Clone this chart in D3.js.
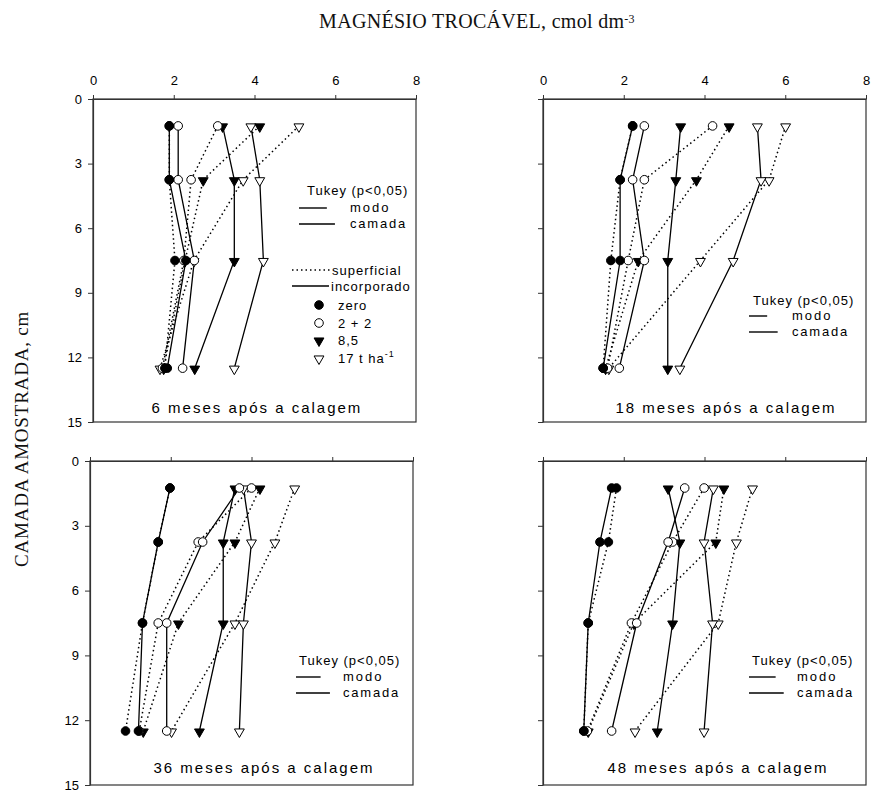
<!DOCTYPE html>
<html><head><meta charset="utf-8">
<script src="https://cdn.jsdelivr.net/npm/d3@7/dist/d3.min.js"></script>
<style>body{margin:0;background:#fff}svg{display:block}</style>
</head><body><svg id="c" width="871" height="794"></svg>
<script>
// ---- data ----
const depths = [1.25, 3.75, 7.5, 12.5];
const xTicks = [0, 2, 4, 6, 8];
const yTicks = [0, 3, 6, 9, 12, 15];
const doses = ["zero", "2 + 2", "8,5", "17"];
const panelTitles = ["6 meses após a calagem", "18 meses após a calagem", "36 meses após a calagem", "48 meses após a calagem"];
// superficial (dotted) and incorporado (solid); rows = doses, cols = depths
const sup6  = [[1.89,1.89,2.03,1.78],[3.09,2.43,2.25,1.72],[4.13,2.73,2.28,1.75],[5.10,3.72,2.50,1.66]];
const inc6  = [[1.89,1.89,2.30,1.84],[2.11,2.11,2.51,2.22],[3.21,3.50,3.50,2.52],[3.91,4.13,4.22,3.50]];
const sup18 = [[2.22,1.91,1.68,1.49],[4.20,2.51,2.11,1.60],[4.61,3.80,2.36,1.55],[6.01,5.60,3.90,1.63]];
const inc18 = [[2.22,1.91,1.91,1.49],[2.51,2.22,2.51,1.89],[3.41,3.29,3.09,3.09],[5.31,5.40,4.71,3.39]];
const sup36 = [[1.98,1.69,1.30,0.88],[4.00,2.68,1.69,1.22],[4.21,3.59,2.19,1.32],[5.07,4.58,3.59,2.02]];
const inc36 = [[1.98,1.69,1.30,1.20],[3.70,2.79,1.90,1.90],[3.59,3.30,3.30,2.71],[3.80,4.00,3.80,3.70]];
const sup48 = [[1.82,1.62,1.12,1.01],[3.99,3.21,2.19,1.10],[4.48,4.28,2.25,1.12],[5.19,4.79,4.34,2.28]];
const inc48 = [[1.70,1.41,1.12,1.01],[3.51,3.10,2.32,1.70],[3.10,3.39,3.21,2.83],[4.22,3.99,4.20,3.99]];
const tukeyModo   = [0.69, 0.45, 0.61, 0.66];
const tukeyCamada = [0.89, 0.71, 0.84, 0.86];

const supAll = [sup6, sup18, sup36, sup48];
const incAll = [inc6, inc18, inc36, inc48];

// ---- layout ----
const panels = [
  {x0:93,  y0:99,  w:323, h:323, top:true,  left:true,  tk:[214,91,206,109,125,257], st:[164,309]},
  {x0:543, y0:99,  w:323, h:323, top:true,  left:false, tk:[210,201,206,217,233,249], st:[183,309]},
  {x0:90,  y0:461, w:323, h:324, top:false, left:true,  tk:[209,199,206,216,232,253], st:[174,307]},
  {x0:543, y0:461, w:323, h:324, top:false, left:false, tk:[209,199,206,216,232,254], st:[175,307]}
];
const svg = d3.select("#c");
const sans = "Arial, 'Liberation Sans', sans-serif";
const serif = "'Times New Roman', 'Liberation Serif', serif";
const axisCol = "#333";
const dotArray = "1.5,3";

function marker(g, doseIdx, cx, cy) {
  const filled = (doseIdx === 0 || doseIdx === 2);
  if (doseIdx < 2) {
    g.append("circle").attr("cx", cx).attr("cy", cy).attr("r", 4.3)
      .attr("fill", filled ? "#000" : "#fff").attr("stroke", "#000").attr("stroke-width", 1);
  } else {
    g.append("path").attr("d", d3.symbol(d3.symbolTriangle, 42)())
      .attr("transform", `translate(${cx},${cy + 0.8}) rotate(180)`)
      .attr("fill", filled ? "#000" : "#fff").attr("stroke", "#000").attr("stroke-width", 1);
  }
}

panels.forEach((p, pi) => {
  const x = d3.scaleLinear().domain([0, 8]).range([p.x0, p.x0 + p.w]);
  const y = d3.scaleLinear().domain([0, 15]).range([p.y0, p.y0 + p.h]);
  const g = svg.append("g");

  // frame
  g.append("rect").attr("x", p.x0).attr("y", p.y0).attr("width", p.w).attr("height", p.h)
    .attr("fill", "none").attr("stroke", axisCol).attr("stroke-width", 1.2);

  const ax = d3.axisTop(x).tickValues(xTicks).tickSize(4).tickSizeOuter(0);
  if (!p.top) ax.tickFormat("");
  const gx = g.append("g").attr("transform", `translate(0,${p.y0})`).call(ax);
  gx.selectAll("text").attr("font-family", sans).attr("font-size", 13).attr("fill", "#000").attr("dy", "-0.55em");

  const ay = d3.axisLeft(y).tickValues(yTicks).tickSize(5).tickSizeOuter(0);
  if (!p.left) ay.tickFormat("");
  const gy = g.append("g").attr("transform", `translate(${p.x0},0)`).call(ay);
  gy.selectAll("text").attr("font-family", sans).attr("font-size", 13).attr("fill", "#000").attr("x", -11);
  g.selectAll(".domain").attr("stroke", axisCol).attr("stroke-width", 1.2);
  g.selectAll(".tick line").attr("stroke", axisCol);

  const line = d3.line().x(v => x(v)).y((v, i) => y(depths[i]));
  const sup = supAll[pi], inc = incAll[pi];
  // lines
  sup.forEach(s => g.append("path").attr("d", line(s)).attr("fill", "none")
    .attr("stroke", "#000").attr("stroke-width", 1.5).attr("stroke-dasharray", dotArray));
  inc.forEach(s => g.append("path").attr("d", line(s)).attr("fill", "none")
    .attr("stroke", "#000").attr("stroke-width", 1.3));
  // markers (draw high doses first)
  for (let d = 3; d >= 0; d--) {
    sup[d].forEach((v, i) => marker(g, d, x(v), y(depths[i])));
    inc[d].forEach((v, i) => marker(g, d, x(v), y(depths[i])));
  }

  // Tukey legend
  const t = p.tk;
  g.append("text").attr("x", p.x0 + t[0]).attr("y", p.y0 + t[1]).attr("dy", "0.35em")
    .attr("font-family", sans).attr("font-size", 13).attr("letter-spacing", "1px").text("Tukey (p<0,05)");
  const lx = p.x0 + t[2];
  g.append("line").attr("x1", lx).attr("x2", lx + (x(tukeyModo[pi]) - x(0)))
    .attr("y1", p.y0 + t[3]).attr("y2", p.y0 + t[3]).attr("stroke", "#000").attr("stroke-width", 1.4);
  g.append("line").attr("x1", lx).attr("x2", lx + (x(tukeyCamada[pi]) - x(0)))
    .attr("y1", p.y0 + t[4]).attr("y2", p.y0 + t[4]).attr("stroke", "#000").attr("stroke-width", 1.4);
  g.append("text").attr("x", p.x0 + t[5]).attr("y", p.y0 + t[3] - 1).attr("dy", "0.35em")
    .attr("font-family", sans).attr("font-size", 13).attr("letter-spacing", "2px").text("modo");
  g.append("text").attr("x", p.x0 + t[5]).attr("y", p.y0 + t[4] - 1).attr("dy", "0.35em")
    .attr("font-family", sans).attr("font-size", 13).attr("letter-spacing", "1.8px").text("camada");

  // subtitle
  g.append("text").attr("x", p.x0 + p.st[0]).attr("y", p.y0 + p.st[1]).attr("dy", "0.35em")
    .attr("text-anchor", "middle").attr("font-family", sans).attr("font-size", 15)
    .attr("letter-spacing", "2px").text(panelTitles[pi]);

  // mode/dose legend in first panel
  if (pi === 0) {
    const L = g.append("g");
    L.append("line").attr("x1", 292).attr("x2", 330).attr("y1", 270).attr("y2", 270)
      .attr("stroke", "#000").attr("stroke-width", 1.5).attr("stroke-dasharray", dotArray);
    L.append("text").attr("x", 332).attr("y", 270).attr("dy", "0.35em").attr("font-family", sans)
      .attr("font-size", 13).attr("letter-spacing", "1px").text("superficial");
    L.append("line").attr("x1", 292).attr("x2", 329).attr("y1", 286).attr("y2", 286)
      .attr("stroke", "#000").attr("stroke-width", 1.4);
    L.append("text").attr("x", 331).attr("y", 286).attr("dy", "0.35em").attr("font-family", sans)
      .attr("font-size", 13).attr("letter-spacing", "1px").text("incorporado");
    const ly = [305, 323, 340, 358];
    doses.forEach((dn, di) => {
      marker(L, di, 319, ly[di]);
      const tx = L.append("text").attr("x", 338).attr("y", ly[di]).attr("dy", "0.35em")
        .attr("font-family", sans).attr("font-size", 13).attr("letter-spacing", "1px");
      if (di === 3) {
        tx.text(dn + " t ha");
        tx.append("tspan").attr("font-size", 9).attr("dy", "-0.6em").text("-1");
      } else tx.text(dn);
    });
  }
});

// main titles
const tt = svg.append("text").attr("x", 477).attr("y", 28).attr("text-anchor", "middle")
  .attr("font-family", serif).attr("font-size", 20).attr("fill", "#111").attr("letter-spacing", "0.3px")
  .text("MAGNÉSIO TROCÁVEL, cmol dm");
tt.append("tspan").attr("font-size", 12).attr("dy", "-0.45em").text("-3");

svg.append("text").attr("transform", "translate(28,439) rotate(-90)").attr("text-anchor", "middle")
  .attr("font-family", serif).attr("font-size", 19).attr("fill", "#111").attr("letter-spacing", "0.8px")
  .text("CAMADA AMOSTRADA, cm");
</script></body></html>
